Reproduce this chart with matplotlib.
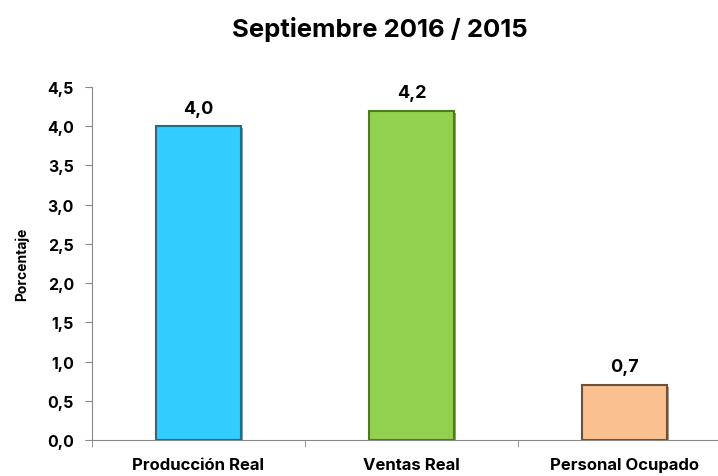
import numpy as np
import matplotlib
matplotlib.use('Agg')
import matplotlib.pyplot as plt
import matplotlib.patheffects as pe
from matplotlib.ticker import FixedLocator, FuncFormatter

categories = ['Producción Real', 'Ventas Real', 'Personal Ocupado']
values = [4.0, 4.2, 0.7]
colors = ['#33CCFF', '#92D050', '#FAC090']
edges = ['#1C6E8A', '#4F7A22', '#6E5038']

plt.rcParams['font.family'] = ['Inter', 'DejaVu Sans']
plt.rcParams['font.weight'] = 'bold'

fig = plt.figure(figsize=(7.18, 4.77), dpi=100)
ax = fig.add_axes([92/718, 1 - 441/477, 639/718, 353/477])

x = np.arange(len(categories))
bars = ax.bar(x, values, width=0.40, color=colors, edgecolor=edges, linewidth=1.5, zorder=3)
for b in bars:
    b.set_path_effects([pe.SimplePatchShadow(offset=(1.5, -1.5), alpha=0.5), pe.Normal()])

for xi, v in zip(x, values):
    ax.annotate('{:.1f}'.format(v).replace('.', ','), (xi, v), xytext=(0, 7),
                textcoords='offset points', ha='center', va='bottom',
                fontsize=13, fontweight='bold')

ax.set_xlim(-0.5, 2.5)
ax.set_ylim(0, 4.5)
ax.set_yticks(np.arange(0, 4.51, 0.5))
ax.yaxis.set_major_formatter(FuncFormatter(lambda v, p: '{:.1f}'.format(v).replace('.', ',')))
ax.set_xticks(x)
ax.set_xticklabels(categories, fontsize=12, fontweight='bold')
ax.xaxis.set_minor_locator(FixedLocator([-0.5, 0.5, 1.5, 2.5]))
ax.tick_params(axis='x', which='major', length=0, pad=12)
ax.tick_params(axis='x', which='minor', length=5, color='#888888')
ax.tick_params(axis='y', length=5, color='#888888', labelsize=11.5, pad=8)
for lab in ax.get_yticklabels():
    lab.set_fontweight('bold')

ax.spines['top'].set_visible(False)
ax.spines['right'].set_visible(False)
ax.spines['left'].set_color('#888888')
ax.spines['bottom'].set_color('#888888')

ax.set_ylabel('Porcentaje', fontsize=10, fontweight='bold', labelpad=13)
fig.text(380/718, 1 - 30/477, 'Septiembre 2016 / 2015', ha='center', va='center',
         fontsize=18.5, fontweight='bold')

fig.savefig('out.png', dpi=100)
